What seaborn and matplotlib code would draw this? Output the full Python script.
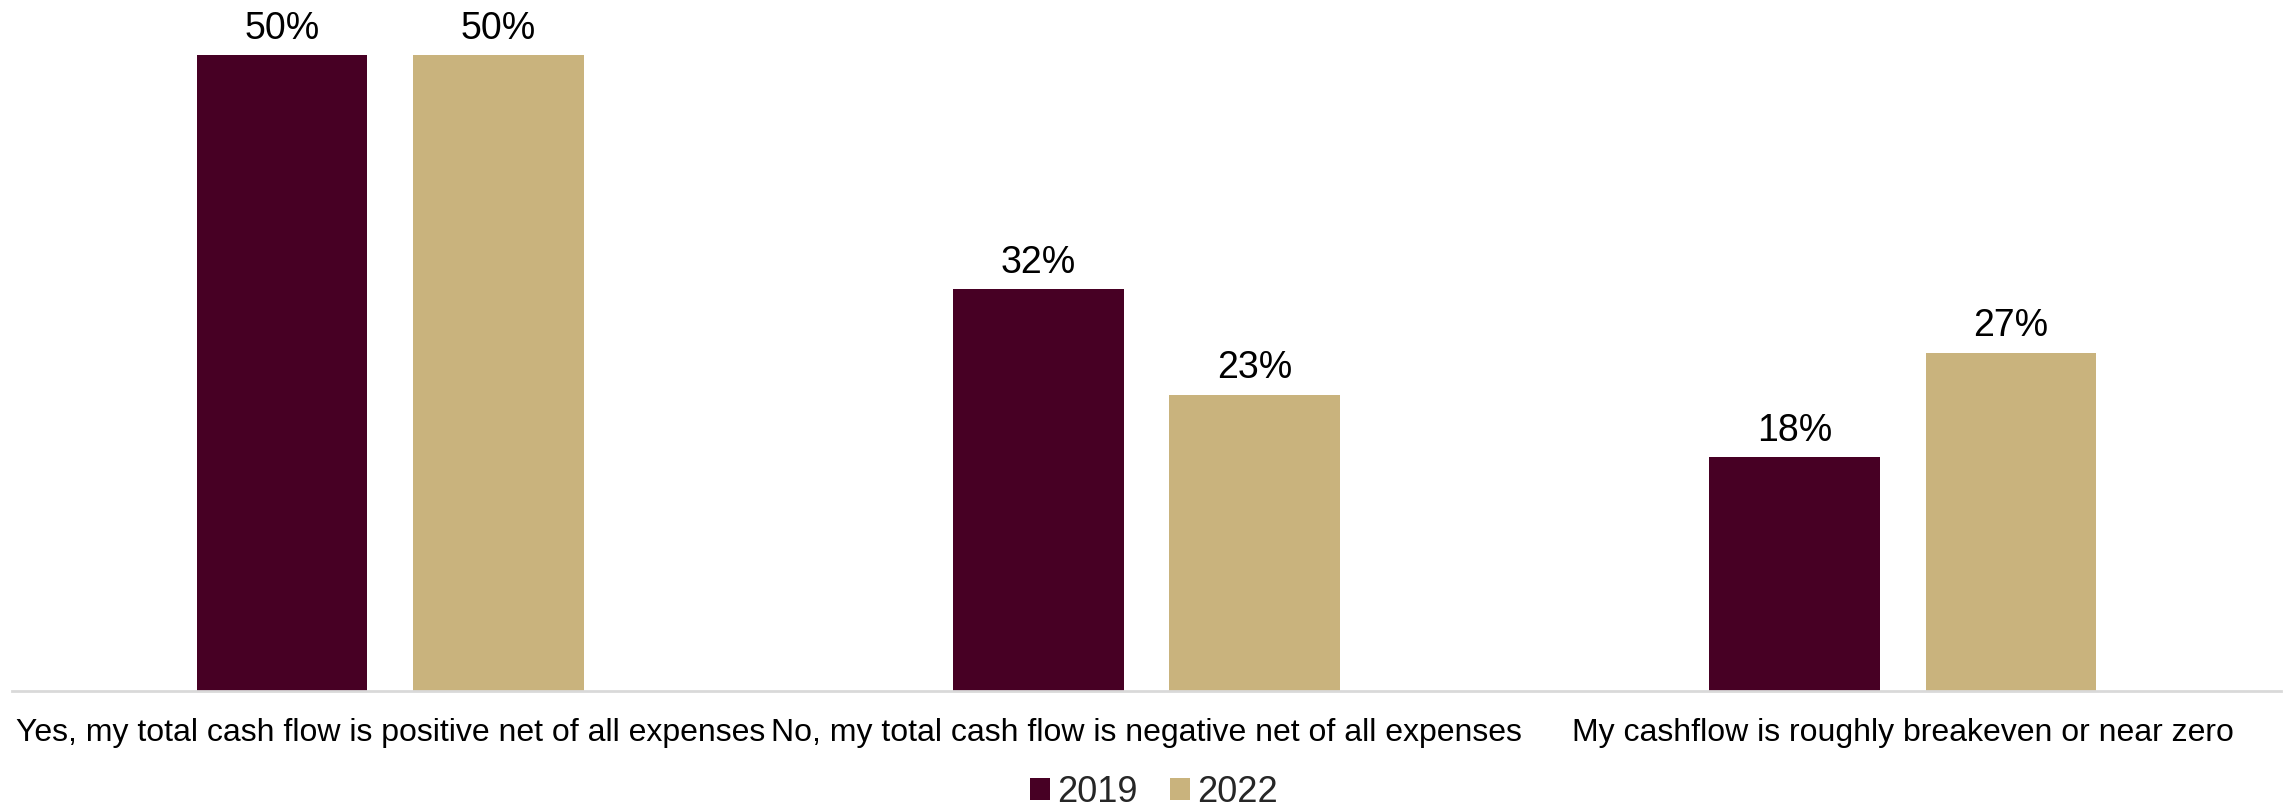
import matplotlib
matplotlib.use("Agg")
import matplotlib.pyplot as plt
import seaborn as sns
import pandas as pd
from matplotlib.patches import Patch

categories = [
    "Yes, my total cash flow is positive net of all expenses",
    "No, my total cash flow is negative net of all expenses",
    "My cashflow is roughly breakeven or near zero",
]
years = ["2019", "2022"]
values_2019 = [50, 31.6, 18.4]
values_2022 = [50, 23.3, 26.6]
colors = ["#470024", "#C9B37D"]

df = pd.DataFrame({
    "category": categories * 2,
    "year": [years[0]] * 3 + [years[1]] * 3,
    "value": values_2019 + values_2022,
})

sns.set_theme(style="white")
plt.rcParams["font.family"] = ["Liberation Sans", "DejaVu Sans"]

fig = plt.figure(figsize=(22.9, 8.09), dpi=100)
ax = fig.add_axes([12 / 2290, (809 - 691) / 809, (2281 - 12) / 2290, 687 / 809])

sns.barplot(data=df, x="category", y="value", hue="year", order=categories,
            hue_order=years, palette=colors, width=0.572, gap=0.21,
            saturation=1, ax=ax, legend=False, linewidth=0)

for cont in ax.containers:
    ax.bar_label(cont, fmt="%.0f%%", padding=6, fontsize=27, color="#000000")

ax.set_xlim(-0.5, 2.5)
ax.set_ylim(0, 54)
ax.set_xlabel("")
ax.set_ylabel("")
ax.set_yticks([])
for s in ["top", "right", "left"]:
    ax.spines[s].set_visible(False)
ax.spines["bottom"].set_color("#d9d9d9")
ax.spines["bottom"].set_linewidth(2)
ax.tick_params(axis="x", length=0, pad=19.5, labelsize=23.0, labelcolor="#000000")

handles = [Patch(facecolor=c, edgecolor="none") for c in colors]
fig.legend(handles, years, loc="center", bbox_to_anchor=(0.504, 0.021), ncol=2,
           frameon=False, fontsize=26, handlelength=0.55, handleheight=0.55,
           handletextpad=0.2, columnspacing=0.9)

fig.savefig("out.png", dpi=100)
